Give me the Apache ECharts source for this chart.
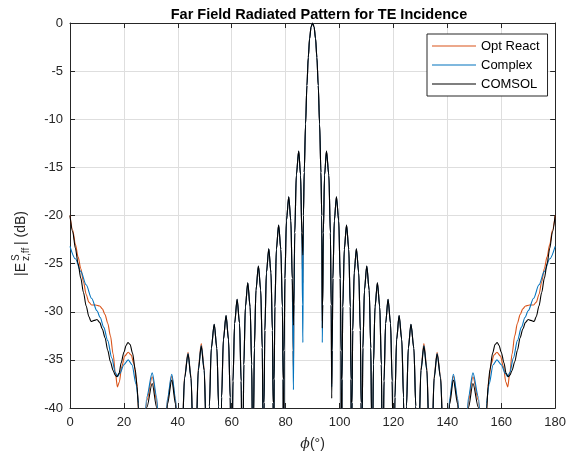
<!DOCTYPE html>
<html><head><meta charset="utf-8">
<script src="https://cdn.jsdelivr.net/npm/echarts@6/dist/echarts.min.js"></script>
<style>html,body{margin:0;padding:0;background:#fff}#c{width:569px;height:460px}</style>
</head><body><div id="c"></div>
<script>
// ---------- Data (phi in degrees, value in dB) ----------
const seriesNames = ['Opt React', 'Complex', 'COMSOL'];
const xTicks = [0, 20, 40, 60, 80, 100, 120, 140, 160, 180];
const yTicks = [-40, -35, -30, -25, -20, -15, -10, -5, 0];

// left edge region 0..26 deg
const edgeL_opt = [[0,-20],[1,-21.5],[2,-23.0],[3,-24.3],[4,-25.5],[5,-26.9],[6,-28.2],[7,-29.0],[8,-29.3],[9.5,-29.3],[11,-29.4],[12,-29.7],[13,-30.3],[14,-31.2],[15,-32.5],[16,-34.4],[16.8,-36.3],[17.6,-37.8],[18.3,-37.3],[19.2,-35.7],[20.3,-34.6],[21.6,-34.2],[22.7,-34.5],[23.7,-35.4],[24.6,-37.0],[25.3,-39.2],[26.0,-60]];
const edgeL_cx = [[0,-23.2],[2,-24.5],[4,-25.8],[6,-27.2],[8,-28.6],[10,-29.9],[11.2,-30.6],[12.5,-31.6],[14,-33.0],[15.5,-34.8],[16.8,-36.3],[17.6,-36.75],[18.5,-36.4],[20,-35.5],[21.6,-35.0],[23,-35.5],[24.5,-37.5],[25.5,-39.5],[26.0,-60]];
const edgeL_com = [[0,-20],[1,-21.7],[2,-23.4],[3,-25.0],[4,-26.5],[5,-28.0],[6,-29.4],[7,-30.5],[7.8,-31.0],[9,-30.9],[10,-30.8],[11,-31.1],[12,-31.8],[13,-32.7],[14,-34.0],[15,-35.2],[16,-36.1],[16.8,-36.6],[17.4,-36.75],[18.2,-36.4],[19,-35.3],[20,-34.2],[20.8,-33.5],[21.5,-33.2],[22.3,-33.4],[23.2,-34.3],[24.2,-36.0],[24.9,-37.8],[25.4,-40.2],[26.0,-60]];

// outer side lobes, left (26..51 deg)
const outerL_opt = [[26.45,-52.75],[27.125,-45.25],[28.475,-39.25],[30.5,-36.75],[32.165,-39.25],[33.275,-45.25],[33.83,-52.75],[34.2,-60],
  [34.555,-52.7],[35.09,-45.2],[36.15,-39.2],[37.75,-36.7],[39.17,-39.2],[40.11,-45.2],[40.585,-52.7],[40.9,-60],
  [41.19,-50.2],[41.625,-42.7],[42.495,-36.7],[43.8,-34.2],[44.9,-36.7],[45.64,-42.7],[46.0,-50.2],[46.25,-60],
  [46.5,-49.3],[46.86,-41.8],[47.6,-35.8],[48.7,-33.3],[49.78,-35.8],[50.5,-41.8],[50.86,-49.3]];
const outerL_cx = [[26.45,-52.35],[27.125,-44.85],[28.475,-38.85],[30.5,-36.35],[32.165,-38.85],[33.275,-44.85],[33.83,-52.35],[34.2,-60],
  [34.555,-52.5],[35.09,-45.0],[36.15,-39.0],[37.75,-36.5],[39.17,-39.0],[40.11,-45.0],[40.585,-52.5],[40.9,-60],
  [41.19,-50.35],[41.625,-42.85],[42.495,-36.85],[43.8,-34.35],[44.9,-36.85],[45.64,-42.85],[46.0,-50.35],[46.25,-60],
  [46.5,-49.5],[46.86,-42.0],[47.6,-36.0],[48.7,-33.5],[49.78,-36.0],[50.5,-42.0],[50.86,-49.5]];
const outerL_com = [[26.45,-53.45],[27.125,-45.95],[28.475,-39.95],[30.5,-37.45],[32.165,-39.95],[33.275,-45.95],[33.83,-53.45],[34.2,-60],
  [34.555,-53.1],[35.09,-45.6],[36.15,-39.6],[37.75,-37.1],[39.17,-39.6],[40.11,-45.6],[40.585,-53.1],[40.9,-60],
  [41.19,-50.4],[41.625,-42.9],[42.495,-36.9],[43.8,-34.4],[44.9,-36.9],[45.64,-42.9],[46.0,-50.4],[46.25,-60],
  [46.5,-49.6],[46.86,-42.1],[47.6,-36.1],[48.7,-33.6],[49.78,-36.1],[50.5,-42.1],[50.86,-49.6]];

// shared side lobes, left (51..82.5 deg)
const midL = [[51.1,-60],
  [51.34,-47.3],[51.7,-39.8],[52.42,-33.8],[53.5,-31.3],[54.49,-33.8],[55.15,-39.8],[55.48,-47.3],[55.7,-60],
  [55.92,-46.4],[56.25,-38.9],[56.91,-32.9],[57.9,-30.4],[58.82,-32.9],[59.44,-38.9],[59.75,-46.4],[59.95,-60],
  [60.15,-44.7],[60.46,-37.2],[61.08,-31.2],[62.0,-28.7],[62.9,-31.2],[63.5,-37.2],[63.8,-44.7],[64.0,-60],
  [64.2,-43],[64.49,-35.5],[65.07,-29.5],[65.95,-27],[66.83,-29.5],[67.41,-35.5],[67.71,-43],[67.9,-60],
  [68.1,-41.25],[68.4,-33.75],[69.0,-27.75],[69.9,-25.25],[70.76,-27.75],[71.33,-33.75],[71.61,-41.25],[71.8,-60],
  [71.995,-39.45],[72.29,-31.95],[72.87,-25.95],[73.75,-23.45],[74.56,-25.95],[75.1,-31.95],[75.37,-39.45],[75.55,-60],
  [75.74,-37],[76.01,-29.5],[76.57,-23.5],[77.4,-21],[78.23,-23.5],[78.79,-29.5],[79.07,-37],[79.25,-60],
  [79.44,-34.05],[79.73,-26.55],[80.3,-20.55],[81.15,-18.05],[81.94,-20.55],[82.46,-26.55]];

// main lobe and first side lobes (82.7..97.5 deg)
const core_opt = [[82.73,-34.05],[82.9,-36],[83.1,-29.3],[83.39,-21.8],[83.97,-15.8],[84.85,-13.3],[85.55,-15.8],[86.01,-21.8],[86.25,-26],[86.4,-27],
  [86.6,-20],[86.9,-15.5],[87.4,-10.5],[87.9,-6.5],[88.4,-3.6],[88.9,-1.6],[89.45,-0.4],[90,0],[90.55,-0.4],[91.1,-1.6],[91.6,-3.6],[92.1,-6.5],[92.6,-10.5],[93.1,-15.5],[93.4,-20],
  [93.6,-31],[93.75,-29.3],[93.99,-21.8],[94.45,-15.8],[95.15,-13.3],[96.03,-15.8],[96.61,-21.8],[96.9,-29.3],[97.1,-37.5],[97.27,-34.05],[97.54,-26.55]];
const core_cx = [[82.73,-34.05],[82.9,-38.1],[83.1,-29.3],[83.39,-21.8],[83.97,-15.8],[84.85,-13.3],[85.55,-15.8],[86.01,-21.8],[86.25,-29.3],[86.4,-33.2],
  [86.6,-20],[86.9,-15.5],[87.4,-10.5],[87.9,-6.5],[88.4,-3.6],[88.9,-1.6],[89.45,-0.4],[90,0],[90.55,-0.4],[91.1,-1.6],[91.6,-3.6],[92.1,-6.5],[92.6,-10.5],[93.1,-15.5],[93.4,-20],
  [93.6,-33.2],[93.75,-29.3],[93.99,-21.8],[94.45,-15.8],[95.15,-13.3],[96.03,-15.8],[96.61,-21.8],[96.9,-29.3],[97.1,-37.8],[97.27,-34.05],[97.54,-26.55]];
const core_com = [[82.9,-31.4],[83.39,-21.8],[83.97,-15.8],[84.85,-13.3],[85.55,-15.8],[86.01,-21.8],[86.4,-24.1],
  [86.6,-20],[86.9,-15.5],[87.4,-10.5],[87.9,-6.5],[88.4,-3.6],[88.9,-1.6],[89.45,-0.4],[90,0],[90.55,-0.4],[91.1,-1.6],[91.6,-3.6],[92.1,-6.5],[92.6,-10.5],[93.1,-15.5],[93.4,-20],
  [93.6,-31.7],[93.75,-29.3],[93.99,-21.8],[94.45,-15.8],[95.15,-13.3],[96.03,-15.8],[96.61,-21.8],[96.9,-29.3],[97.1,-39.0],[97.27,-34.05],[97.54,-26.55]];

// shared side lobes, right (98..129 deg)
const midR = [[98.06,-20.55],[98.85,-18.05],[99.7,-20.55],[100.27,-26.55],[100.56,-34.05],[100.75,-60],
  [100.93,-37],[101.21,-29.5],[101.77,-23.5],[102.6,-21],[103.43,-23.5],[103.99,-29.5],[104.26,-37],[104.45,-60],
  [104.63,-39.45],[104.9,-31.95],[105.44,-25.95],[106.25,-23.45],[107.13,-25.95],[107.71,-31.95],[108.005,-39.45],[108.2,-60],
  [108.39,-41.25],[108.67,-33.75],[109.24,-27.75],[110.1,-25.25],[111.0,-27.75],[111.6,-33.75],[111.9,-41.25],[112.1,-60],
  [112.29,-43],[112.59,-35.5],[113.17,-29.5],[114.05,-27],[114.93,-29.5],[115.51,-35.5],[115.8,-43],[116.0,-60],
  [116.2,-44.7],[116.5,-37.2],[117.1,-31.2],[118.0,-28.7],[118.92,-31.2],[119.54,-37.2],[119.85,-44.7],[120.05,-60],
  [120.25,-46.4],[120.56,-38.9],[121.18,-32.9],[122.1,-30.4],[123.09,-32.9],[123.75,-38.9],[124.08,-46.4],[124.3,-60],
  [124.52,-47.3],[124.85,-39.8],[125.51,-33.8],[126.5,-31.3],[127.58,-33.8],[128.3,-39.8],[128.66,-47.3],[128.9,-60]];

// outer side lobes, right (129..154 deg)
const outerR_opt = [[129.14,-49.3],[129.5,-41.8],[130.22,-35.8],[131.3,-33.3],[132.4,-35.8],[133.14,-41.8],[133.5,-49.3],[133.75,-60],
  [134.0,-50.2],[134.36,-42.7],[135.1,-36.7],[136.2,-34.2],[137.505,-36.7],[138.375,-42.7],[138.81,-50.2],[139.1,-60],
  [139.415,-52.7],[139.89,-45.2],[140.83,-39.2],[142.25,-36.7],[143.85,-39.2],[144.91,-45.2],[145.445,-52.7],[145.8,-60],
  [146.17,-52.75],[146.725,-45.25],[147.835,-39.25],[149.5,-36.75],[151.525,-39.25],[152.875,-45.25],[153.55,-52.75]];
const outerR_cx = [[129.14,-49.5],[129.5,-42.0],[130.22,-36.0],[131.3,-33.5],[132.4,-36.0],[133.14,-42.0],[133.5,-49.5],[133.75,-60],
  [134.0,-50.35],[134.36,-42.85],[135.1,-36.85],[136.2,-34.35],[137.505,-36.85],[138.375,-42.85],[138.81,-50.35],[139.1,-60],
  [139.415,-52.5],[139.89,-45.0],[140.83,-39.0],[142.25,-36.5],[143.85,-39.0],[144.91,-45.0],[145.445,-52.5],[145.8,-60],
  [146.17,-52.35],[146.725,-44.85],[147.835,-38.85],[149.5,-36.35],[151.525,-38.85],[152.875,-44.85],[153.55,-52.35]];
const outerR_com = [[129.14,-49.6],[129.5,-42.1],[130.22,-36.1],[131.3,-33.6],[132.4,-36.1],[133.14,-42.1],[133.5,-49.6],[133.75,-60],
  [134.0,-50.4],[134.36,-42.9],[135.1,-36.9],[136.2,-34.4],[137.505,-36.9],[138.375,-42.9],[138.81,-50.4],[139.1,-60],
  [139.415,-53.1],[139.89,-45.6],[140.83,-39.6],[142.25,-37.1],[143.85,-39.6],[144.91,-45.6],[145.445,-53.1],[145.8,-60],
  [146.17,-53.45],[146.725,-45.95],[147.835,-39.95],[149.5,-37.45],[151.525,-39.95],[152.875,-45.95],[153.55,-53.45]];

// right edge region 154..180 deg
const edgeR_opt = [[154.0,-60],[154.7,-39.2],[155.4,-37.0],[156.3,-35.4],[157.3,-34.5],[158.4,-34.2],[159.7,-34.6],[160.8,-35.7],[161.7,-37.3],[162.4,-37.8],[163.2,-36.3],[164,-34.4],[165,-32.5],[166,-31.2],[167,-30.3],[168,-29.7],[169,-29.4],[170.5,-29.3],[172,-29.3],[173,-29.0],[174,-28.2],[175,-26.9],[176,-25.5],[177,-24.3],[178,-23.0],[179,-21.5],[180,-20]];
const edgeR_cx = [[154.0,-60],[154.5,-39.5],[155.5,-37.5],[157,-35.5],[158.4,-35.0],[160,-35.5],[161.5,-36.4],[162.4,-36.75],[163.2,-36.3],[164.5,-34.8],[166,-33.0],[167.5,-31.6],[168.8,-30.6],[170,-29.9],[172,-28.6],[174,-27.2],[176,-25.8],[178,-24.5],[180,-23.2]];
const edgeR_com = [[154.0,-60],[154.6,-40.2],[155.1,-37.8],[155.8,-36.0],[156.8,-34.3],[157.7,-33.4],[158.5,-33.2],[159.2,-33.5],[160,-34.2],[161,-35.3],[161.8,-36.4],[162.6,-36.75],[163.2,-36.6],[164,-36.1],[165,-35.2],[166,-34.0],[167,-32.7],[168,-31.8],[169,-31.1],[170,-30.8],[171,-30.9],[172.2,-31.0],[173,-30.5],[174,-29.4],[175,-28.0],[176,-26.5],[177,-25.0],[178,-23.4],[179,-21.7],[180,-20]];

// ---------- Assemble ----------
const optData = [].concat(edgeL_opt, outerL_opt, midL, core_opt, midR, outerR_opt, edgeR_opt);
const cxData  = [].concat(edgeL_cx, outerL_cx, midL, core_cx, midR, outerR_cx, edgeR_cx);
const comData = [].concat(edgeL_com, outerL_com, midL, core_com, midR, outerR_com, edgeR_com);
const colors = ['#D95319', '#0072BD', '#000000'];
const FONT = 'Liberation Sans, Arial, Helvetica, sans-serif';
const AX = '#262626';

const chart = echarts.init(document.getElementById('c'), null, {renderer: 'canvas'});
function ax(pos, show, isX) {
  return {
    type: 'value', position: pos,
    min: isX ? xTicks[0] : yTicks[0], max: isX ? xTicks[xTicks.length-1] : yTicks[yTicks.length-1],
    interval: isX ? 20 : 5,
    axisLine: {show: true, onZero: false, lineStyle: {color: AX, width: 1}},
    axisTick: {show: true, inside: true, length: 5, lineStyle: {color: AX}},
    axisLabel: {show: show, color: AX, fontSize: 13, fontFamily: FONT, margin: isX ? 8 : 7},
    splitLine: {show: show, lineStyle: {color: '#dedede', width: 1}}
  };
}
const xa = ax('bottom', true, true);
xa.name = '{i|ϕ}(°)';
xa.nameLocation = 'middle';
xa.nameGap = 29;
xa.nameTextStyle = {color: AX, fontSize: 14, fontFamily: FONT, rich: {i: {fontStyle: 'italic', fontSize: 14, fontFamily: 'DejaVu Serif, serif', color: AX}}};
const xb = ax('top', false, true);
const ya = ax('left', true, false);
const yb = ax('right', false, false);

const lineSeries = (i, data) => ({
  name: seriesNames[i], type: 'line', data: data, symbol: 'none', smooth: 0.3, smoothMonotone: 'x',
  lineStyle: {width: 1.1, color: colors[i]}, itemStyle: {color: colors[i]}, clip: true
});

chart.setOption({
  animation: false,
  color: colors,
  title: {text: 'Far Field Radiated Pattern for TE Incidence', left: 314, top: 2, textAlign: 'center',
    textStyle: {fontSize: 14.5, fontWeight: 'bold', color: '#000', fontFamily: FONT}},
  grid: {left: 70, right: 11, top: 23, bottom: 52, show: false},
  legend: {
    orient: 'vertical', left: 427, top: 34, padding: [5, 8, 5, 5], itemGap: 5, itemWidth: 44, itemHeight: 1.2,
    icon: 'rect',
    backgroundColor: '#fff', borderColor: AX, borderWidth: 1,
    textStyle: {fontSize: 13, lineHeight: 14, color: '#000', fontFamily: FONT},
    data: seriesNames
  },
  xAxis: [xa, xb],
  yAxis: [ya, yb],
  graphic: [{
    type: 'group', x: 21, y: 230, rotation: Math.PI / 2,
    children: [
      {type: 'text', x: -46, y: 0, style: {text: '|E', fontSize: 14, fontFamily: FONT, fill: AX, textVerticalAlign: 'middle'}},
      {type: 'text', x: -31, y: -5, style: {text: 'S', fontSize: 10, fontFamily: FONT, fill: AX, textVerticalAlign: 'middle'}},
      {type: 'text', x: -31, y: 5, style: {text: 'z,ff', fontSize: 10, fontFamily: FONT, fill: AX, textVerticalAlign: 'middle'}},
      {type: 'text', x: -15, y: 0, style: {text: '| (dB)', fontSize: 14, fontFamily: FONT, fill: AX, textVerticalAlign: 'middle'}}
    ]
  }],
  series: [lineSeries(0, optData), lineSeries(1, cxData), lineSeries(2, comData)]
});
</script></body></html>
